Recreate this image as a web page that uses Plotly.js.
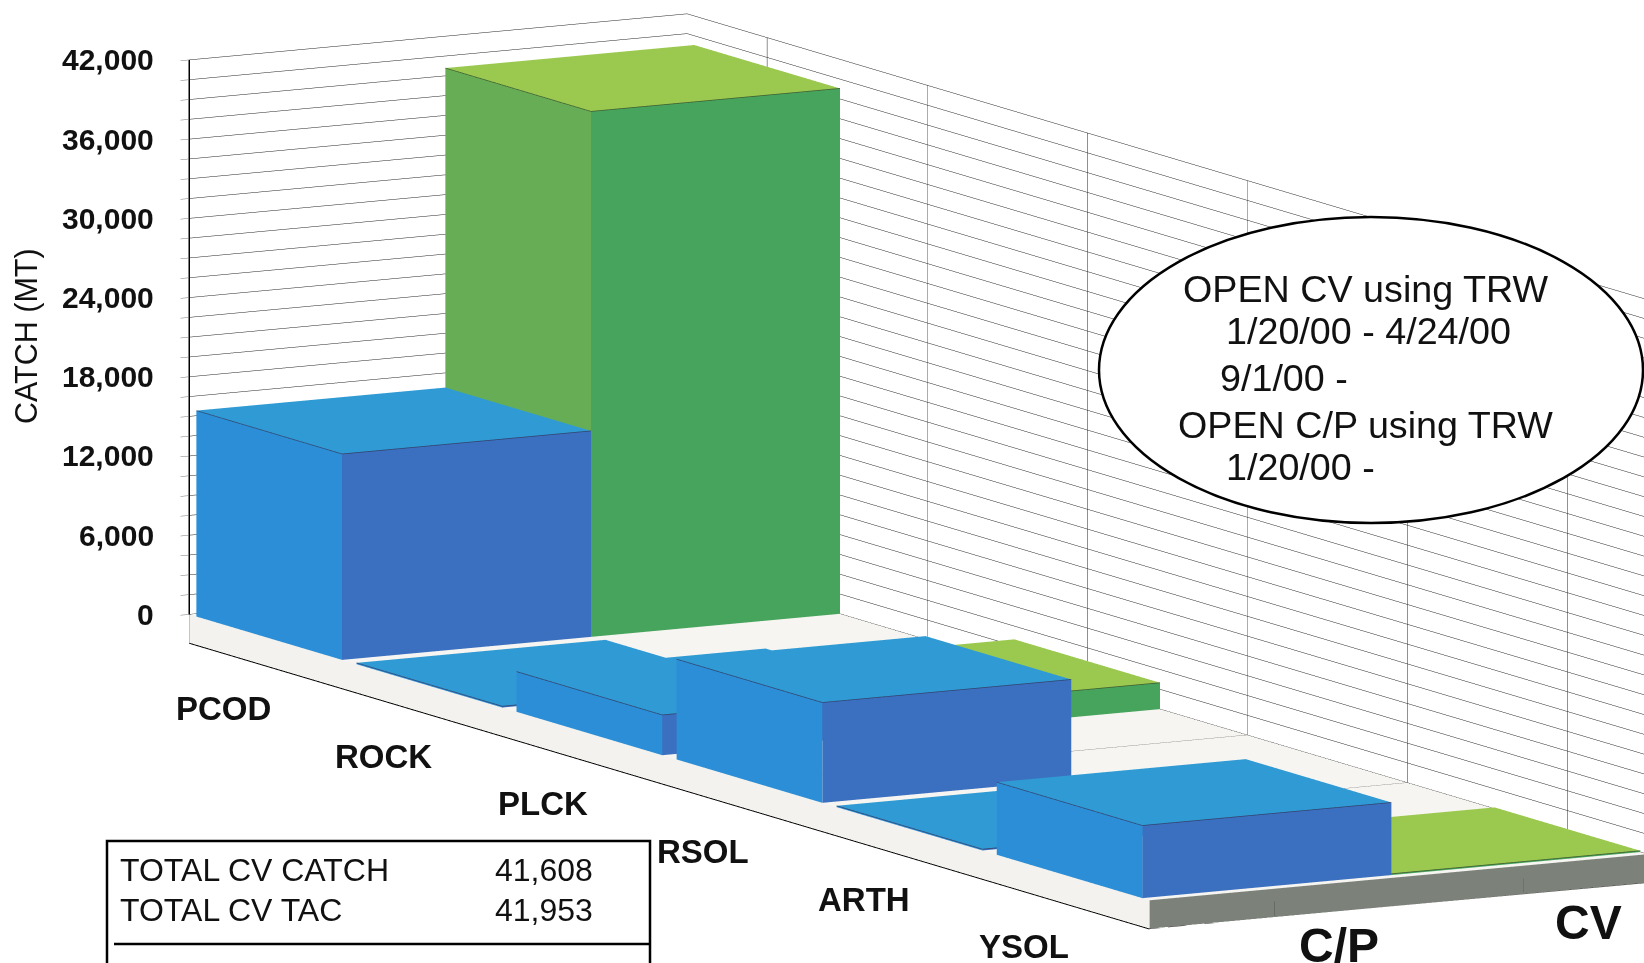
<!DOCTYPE html>
<html><head><meta charset="utf-8">
<script src="https://cdn.plot.ly/plotly-3.0.1.min.js"></script>
<style>html,body{margin:0;padding:0;background:#fff;overflow:hidden}
#chart,#over{position:absolute;left:0;top:0;width:1644px;height:963px}
#over{pointer-events:none}</style></head><body>
<div id="chart"></div><div id="over"></div>
<script>
const categories=['PCOD','ROCK','PLCK','RSOL','ARTH','YSOL'];
const seriesNames=['C/P','CV'];
const cpCatch=[15600,100,3050,7600,100,5500];
const cvCatch=[39800,0,2000,0,0,100];
const majorTicks=[0,6000,12000,18000,24000,30000,36000,42000];
const slabBottom=-2150;
const barPad=0.045;
const minorTicks=[];for(let t=0;t<=42000;t+=1500)minorTicks.push(t);

function boxes(values,v0,v1,colors){
  const x=[],y=[],z=[],i=[],j=[],k=[],fc=[];
  const quad=(p,c)=>{const n=x.length;p.forEach(q=>{x.push(q[0]);y.push(q[1]);z.push(q[2]);});
    i.push(n,n);j.push(n+1,n+2);k.push(n+2,n+3);fc.push(c,c);};
  values.forEach((h,c)=>{ if(!h)return;
    const u0=c+barPad,u1=c+1-barPad;
    quad([[u0,v0,0],[u1,v0,0],[u1,v0,h],[u0,v0,h]],colors.side);
    quad([[u1,v0,0],[u1,v1,0],[u1,v1,h],[u1,v0,h]],colors.front);
    quad([[u0,v0,h],[u1,v0,h],[u1,v1,h],[u0,v1,h]],colors.top);
  });
  return {type:'mesh3d',x,y,z,i,j,k,facecolor:fc,flatshading:true,hoverinfo:'skip',
    lighting:{ambient:1,diffuse:0,specular:0,roughness:1,fresnel:0},showscale:false};
}
function edges(values,v0,v1,color){
  const x=[],y=[],z=[];
  const seg=(a,b)=>{x.push(a[0],b[0],null);y.push(a[1],b[1],null);z.push(a[2],b[2],null);};
  values.forEach((h,c)=>{ if(!h)return;
    const u0=c+barPad,u1=c+1-barPad;
    seg([u0,v0,h],[u1,v0,h]);seg([u1,v0,h],[u1,v1,h]);
  });
  return {type:'scatter3d',mode:'lines',x,y,z,line:{color,width:1.5},hoverinfo:'skip',showlegend:false};
}
const slabPts=(function(){
  const U=categories.length,V=seriesNames.length,b=slabBottom;
  const x=[],y=[],z=[],i=[],j=[],k=[],fc=[];
  const quad=(p,c)=>{const n=x.length;p.forEach(q=>{x.push(q[0]);y.push(q[1]);z.push(q[2]);});
    i.push(n,n);j.push(n+1,n+2);k.push(n+2,n+3);fc.push(c,c);};
  quad([[0,0,0],[U,0,0],[U,V,0],[0,V,0]],'#f6f5f1');
  quad([[0,0,b],[U,0,b],[U,0,0],[0,0,0]],'#f3f2ee');
  quad([[U,0,b],[U,V,b],[U,V,0],[U,0,0]],'#7c8179');
  return {type:'mesh3d',x,y,z,i,j,k,facecolor:fc,flatshading:true,hoverinfo:'skip',
    lighting:{ambient:1,diffuse:0,specular:0,roughness:1,fresnel:0},showscale:false};
})();
const U=categories.length,V=seriesNames.length;
function lines(segs,color,width){
  const x=[],y=[],z=[];
  segs.forEach(s=>{x.push(s[0][0],s[1][0],null);y.push(s[0][1],s[1][1],null);z.push(s[0][2],s[1][2],null);});
  return {type:'scatter3d',mode:'lines',x,y,z,line:{color,width},hoverinfo:'skip',showlegend:false};
}
const traces=[
  slabPts,
  boxes(cpCatch,0,1,{side:'#2c8ed6',front:'#3b6fbf',top:'#2f9ad4'}),
  boxes(cvCatch,1,2,{side:'#66ad55',front:'#46a45c',top:'#9bc94f'}),
  edges(cpCatch,0,1,'#33406a'),
  edges(cvCatch,1,2,'#3d5a32'),
  lines(categories.map((c,n)=>[[n+0.5,0,1],[n+0.5,V,1]]),'#555',1),
  lines([[[0,0,0],[0,0,42000]]],'#000',3),
  lines([[[0,0,slabBottom],[U,0,slabBottom]]],'#000',3.5),
  lines([[[U,0,slabBottom],[U,V,slabBottom]]],'#444',1.5),
  lines([[[0,0,slabBottom],[0,0,0]]],'#999',1),
  lines(seriesNames.map((s,n)=>[[U,n+0.5,slabBottom*0.95],[U,n+0.5,slabBottom*0.45]]),'#444',1)
];
const bold={family:'"Liberation Sans",Arial,sans-serif',size:30,color:'#111',weight:700};
const sceneAnn=[];
majorTicks.forEach(t=>sceneAnn.push({x:0,y:0,z:t,text:'<b>'+t.toLocaleString('en-US')+'</b>',showarrow:false,
  xanchor:'right',xshift:-33,font:bold}));
categories.forEach((c,n)=>sceneAnn.push({x:n+0.5,y:0,z:slabBottom,text:'<b>'+c+'</b>',showarrow:false,
  xanchor:'center',xshift:-46,yshift:-42,font:{...bold,size:33}}));
seriesNames.forEach((s,n)=>sceneAnn.push({x:U,y:n+0.5,z:slabBottom,text:'<b>'+s+'</b>',showarrow:false,
  xanchor:'center',xshift:65,yshift:-28,font:{...bold,size:48}}));

const e=[0.8612,-0.4803,0.166],d=4,c=[-0.0944,-0.1765,-0.021];
const axisCommon={title:{text:''},showticklabels:false,zeroline:false,showspikes:false,showline:false,showbackground:true,backgroundcolor:'#fff'};
Plotly.newPlot('chart',traces,{
  width:1644,height:963,margin:{l:0,r:0,t:0,b:0},paper_bgcolor:'#fff',showlegend:false,
  scene:{domain:{x:[0,1],y:[0,1]},aspectmode:'manual',aspectratio:{x:4.095,y:1.184,z:1.2276},
    camera:{projection:{type:'orthographic'},up:{x:0,y:0,z:1},center:{x:c[0],y:c[1],z:c[2]},
      eye:{x:c[0]+d*e[0],y:c[1]+d*e[1],z:c[2]+d*e[2]}},
    xaxis:{...axisCommon,range:[0,U],tickmode:'array',tickvals:categories.map((_,n)=>n+0.5),showgrid:true,gridcolor:'#222',gridwidth:1,ticks:''},
    yaxis:{...axisCommon,range:[0,V],showgrid:false,ticks:'',tickmode:'array',tickvals:[]},
    zaxis:{...axisCommon,range:[slabBottom,42000],tickmode:'array',tickvals:minorTicks,showgrid:true,gridcolor:'#222',gridwidth:1,ticks:'outside',ticklen:25,tickcolor:'#777'},
    annotations:sceneAnn}
},{displayModeBar:false});

const px=x=>x/1644,py=y=>1-y/963;
const reg=s=>({family:'"Liberation Sans",Arial,sans-serif',size:s,color:'#111'});
const note=(x,y,t,s,a)=>({xref:'paper',yref:'paper',x:px(x),y:py(y),text:t,showarrow:false,xanchor:a||'left',yanchor:'middle',font:reg(s)});
Plotly.newPlot('over',[],{
  width:1644,height:963,margin:{l:0,r:0,t:0,b:0},paper_bgcolor:'rgba(0,0,0,0)',plot_bgcolor:'rgba(0,0,0,0)',
  xaxis:{visible:false},yaxis:{visible:false},
  shapes:[
    {type:'circle',xref:'paper',yref:'paper',x0:px(1099),x1:px(1643),y0:py(217),y1:py(523),fillcolor:'#fff',line:{color:'#000',width:2.5}},
    {type:'rect',xref:'paper',yref:'paper',x0:px(107),x1:px(650),y0:py(841),y1:py(985),fillcolor:'#fff',line:{color:'#000',width:2.5}},
    {type:'line',xref:'paper',yref:'paper',x0:px(114),x1:px(650),y0:py(944),y1:py(944),line:{color:'#000',width:2.5}}
  ],
  annotations:[
    note(1181,289,'OPEN CV using TRW',37.7),note(1224,331,'1/20/00 - 4/24/00',37.7),note(1218,378,'9/1/00 -',37.7),
    note(1176,425,'OPEN C/P using TRW',37.7),note(1224,467,'1/20/00 -',37.7),
    note(118,870,'TOTAL CV CATCH',32),note(118,910,'TOTAL CV TAC',32),
    note(595,870,'41,608',32,'right'),note(595,910,'41,953',32,'right'),
    {xref:'paper',yref:'paper',x:px(26),y:py(336),text:'CATCH (MT)',textangle:-90,showarrow:false,xanchor:'center',yanchor:'middle',font:reg(30.5)}
  ]
},{displayModeBar:false});
</script></body></html>
